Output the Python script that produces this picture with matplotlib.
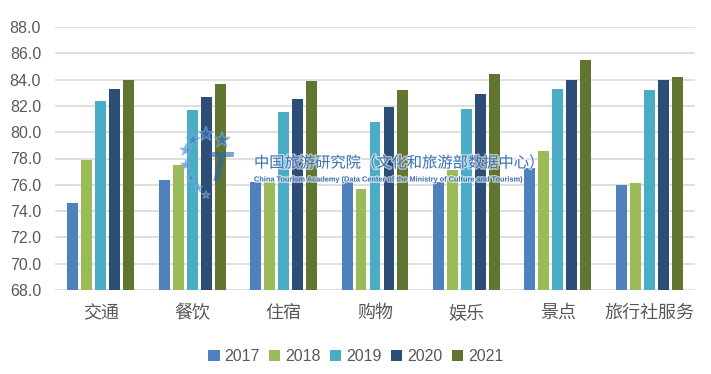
import numpy as np
import matplotlib
matplotlib.use('Agg')
import matplotlib.pyplot as plt
import matplotlib.patheffects as pe

plt.rcParams['font.family'] = ['Liberation Sans', 'Noto Sans CJK SC', 'DejaVu Sans']

categories = ['交通', '餐饮', '住宿', '购物', '娱乐', '景点', '旅行社服务']
years = ['2017', '2018', '2019', '2020', '2021']
v2017 = [74.6, 76.4, 76.2, 76.2, 76.2, 77.3, 76.0]
v2018 = [77.9, 77.5, 76.2, 75.7, 77.1, 78.6, 76.1]
v2019 = [82.4, 81.7, 81.5, 80.8, 81.8, 83.3, 83.2]
v2020 = [83.3, 82.7, 82.5, 81.9, 82.9, 84.0, 84.0]
v2021 = [84.0, 83.7, 83.9, 83.2, 84.4, 85.5, 84.2]
series = [v2017, v2018, v2019, v2020, v2021]
colors = ['#4F81BD', '#9BBB59', '#4BACC6', '#2C4D75', '#5F7530']

fig = plt.figure(figsize=(7.11, 3.74), dpi=100)
ax = fig.add_axes([55 / 711, 1 - 290 / 374, 640 / 711, 263 / 374])

x = np.arange(len(categories))
pitch = 0.153
width = 0.12
for i, (vals, c) in enumerate(zip(series, colors)):
    ax.bar(x + (i - 2) * pitch, np.array(vals) - 68, bottom=68, width=width,
           color=c, label=years[i], zorder=3)

ax.set_ylim(68, 88)
ax.set_xlim(-0.5, 6.5)
ax.set_yticks(np.arange(68, 88.1, 2))
ax.set_yticklabels([f'{v:.1f}' for v in np.arange(68, 88.1, 2)])
ax.grid(axis='y', color='#d9d9d9', linewidth=1.2, zorder=0)
for s in ax.spines.values():
    s.set_visible(False)
ax.tick_params(length=0)
ax.tick_params(axis='y', labelsize=11.5, labelcolor='#595959', pad=10)
ax.set_xticks(x)
ax.set_xticklabels(categories, fontsize=13, color='#595959', family=['Noto Sans CJK SC'])
ax.tick_params(axis='x', pad=10)

# watermark (logo + text)
sax = fig.add_axes([0, 0, 1, 1], facecolor='none')
sax.set_xlim(0, 711)
sax.set_ylim(374, 0)
sax.axis('off')
sax.scatter([186, 193, 206, 222, 186, 191, 198, 206], [150, 140, 134, 140, 165, 178, 188, 195],
            marker='*', s=[80, 110, 130, 150, 60, 50, 40, 35], color='#3a78c2', alpha=0.6,
            edgecolors='#7fb2e5', zorder=6)
sax.text(218, 170, 'T', fontsize=30, color='#2a64b0', alpha=0.6, ha='center', va='center',
         fontstyle='italic', fontweight='bold')
halo = [pe.withStroke(linewidth=2, foreground='white', alpha=0.6)]
sax.text(254, 163, '中国旅游研究院（文化和旅游部数据中心）', fontsize=11,
         color='#2a64b0', alpha=0.85, va='center', family=['Noto Sans CJK SC'],
         path_effects=halo)
sax.text(254, 180,
         'China Tourism Academy (Data Center of the Ministry of Culture and Tourism)',
         fontsize=5.3, color='#2a64b0', alpha=0.85, va='center', fontweight='bold',
         path_effects=halo)

ax.legend(loc='upper center', bbox_to_anchor=(0.47, -0.17), ncol=5, frameon=False,
          fontsize=11.5, handlelength=0.7, handleheight=0.7, handletextpad=0.3,
          columnspacing=0.6, labelcolor='#595959')

fig.savefig('out.png', dpi=100)
